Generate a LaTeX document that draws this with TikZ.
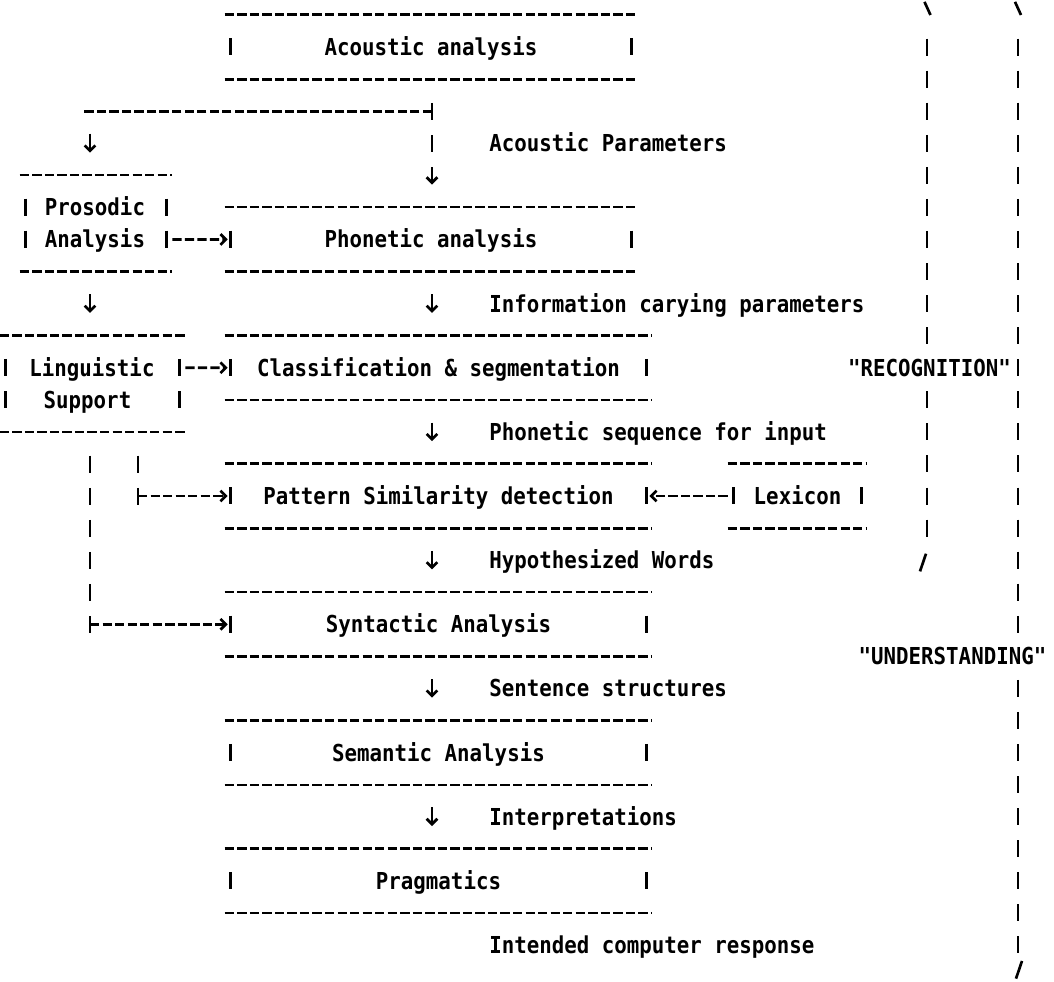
\documentclass[tikz,border=0pt]{standalone}
\usepackage{fontspec}
\usepackage{tikz}
\usetikzlibrary{arrows.meta,calc}
\newfontfamily\dotfont{DejaVu Sans Mono}[FakeStretch=0.89]
\tikzset{
  frame/.style={rectangle, inner sep=0pt, minimum height=48.1pt,
                font=\dotfont\bfseries\fontsize{17.5pt}{20pt}\selectfont,
                text height=12.76pt, text depth=0pt},
  narrowframe/.style={frame, minimum width=309pt},
  wideframe/.style={frame, minimum width=320.25pt},
  sideframe/.style={frame, minimum height=72.15pt},
  txt/.style={inner sep=0pt, font=\dotfont\bfseries\fontsize{17.5pt}{20pt}\selectfont,
              text height=12.76pt, text depth=0pt},
  lbl/.style={txt, anchor=west},
  hrule/.style={line width=2pt, dash pattern=on 7pt off 2.4pt},
  vrule/.style={line width=2.2pt, dash pattern=on 12.75pt off 11.3pt},
  darrow/.style={line width=2pt, -{Straight Barb[length=4pt,width=8pt]},
                 shorten <=16.85pt, shorten >=16.85pt},
  harrow/.style={hrule, -{Straight Barb[length=4pt,width=8pt]}, shorten >=-2.25pt},
  slash/.style={line width=2pt},
}
\begin{document}
\begin{tikzpicture}[x=0.75pt, y=-24.05pt]
\useasboundingbox[fill=white] (0,-0.468) rectangle (1054,30.152);

% main chain
\node[narrowframe] (acoustic) at (431,1) {Acoustic analysis};
\node[narrowframe] (phonetic) at (431,7) {Phonetic analysis};
\node[wideframe] (classif) at (438.5,11) {Classification \& segmentation};
\node[wideframe] (pattern) at (438.5,15) {Pattern Similarity detection};
\node[wideframe] (syntactic) at (438.5,19) {Syntactic Analysis};
\node[wideframe] (semantic) at (438.5,23) {Semantic Analysis};
\node[wideframe] (pragmatics) at (438.5,27) {Pragmatics};

% side boxes
\node[sideframe, minimum width=114pt] (prosodic) at (96,6.5) {};
\node[txt] (prosodicA) at (95,6) {Prosodic};
\node[txt] (prosodicB) at (95,7) {Analysis};
\node[sideframe, minimum width=138.75pt] (linguistic) at (92.5,11.5) {};
\node[txt] (linguisticA) at (92,11) {Linguistic};
\node[txt] (linguisticB) at (87.5,12) {Support};
\node[frame, minimum width=104.25pt] (lexicon) at (797.5,15) {Lexicon};

\foreach \b in {acoustic,phonetic,classif,pattern,syntactic,semantic,pragmatics,prosodic,linguistic,lexicon} {
  \draw[hrule] (\b.north west) -- (\b.north east);
  \draw[hrule] (\b.south west) -- (\b.south east);
  \draw[vrule] ([xshift=4.5pt,yshift=-17.68pt]\b.north west) -- ([xshift=4.5pt,yshift=17.68pt]\b.south west);
  \draw[vrule] ([xshift=-4.5pt,yshift=-17.68pt]\b.north east) -- ([xshift=-4.5pt,yshift=17.68pt]\b.south east);
}

% arrow labels
\node[lbl] (lblacoustic) at (489,4) {Acoustic Parameters};
\node[lbl] (lblinfo) at (489,9) {Information carying parameters};
\node[lbl] (lblphon) at (489,13) {Phonetic sequence for input};
\node[lbl] (lblhyp) at (489,17) {Hypothesized Words};
\node[lbl] (lblsent) at (489,21) {Sentence structures};
\node[lbl] (lblinterp) at (489,25) {Interpretations};
\node[lbl] (lblresp) at (489,29) {Intended computer response};

% connectors
\coordinate (spine) at (432,0);
\coordinate (lspine) at (90,0);
\coordinate (mspine) at (138,0);
\coordinate (split) at (432,3);
\draw[vrule, -{Straight Barb[length=4pt,width=8pt]}, shorten <=17.68pt, shorten >=16.84pt]
  (acoustic.south -| spine) -- (phonetic.north -| spine);
\draw[hrule] (split) -- (82,3);
\draw[darrow] (split -| lspine) -- (prosodic.north -| lspine);
\draw[darrow] (prosodic.south -| lspine) -- (linguistic.north -| lspine);
\foreach \a/\b in {phonetic/classif, classif/pattern, pattern/syntactic, syntactic/semantic, semantic/pragmatics}
  \draw[darrow] (\a.south -| spine) -- (\b.north -| spine);
\draw[harrow] ([yshift=-12.03pt]prosodic.east) -- (phonetic.west);
\draw[harrow] ([yshift=12.03pt]linguistic.east) -- (classif.west);
\draw[vrule, shorten <=17.68pt, shorten >=-6.37pt] (linguistic.south -| mspine) -- (mspine |- pattern.west);
\draw[harrow] (mspine |- pattern.west) -- (pattern.west);
\draw[vrule, shorten <=17.68pt, shorten >=-6.37pt] (linguistic.south -| lspine) -- (lspine |- syntactic.west);
\draw[harrow] (lspine |- syntactic.west) -- (syntactic.west);
\draw[harrow] (lexicon.west) -- (pattern.east);

% recognition / understanding brackets
\node[txt] (recog) at (929.5,11) {"RECOGNITION"};
\node[txt] (underst) at (952.5,20) {"UNDERSTANDING"};
\draw[slash] (924.5,-0.41) -- (930.5,0);
\draw[vrule] (927,0.735) -- (927,10.265);
\draw[vrule] (927,11.735) -- (927,16.265);
\draw[slash] (920,17.35) -- (926,16.8);
\draw[slash] (1015,-0.41) -- (1021,0);
\draw[vrule] (1018,0.735) -- (1018,19.265);
\draw[vrule] (1018,20.735) -- (1018,29.265);
\draw[slash] (1016,30.05) -- (1022,29.5);
\end{tikzpicture}
\end{document}
